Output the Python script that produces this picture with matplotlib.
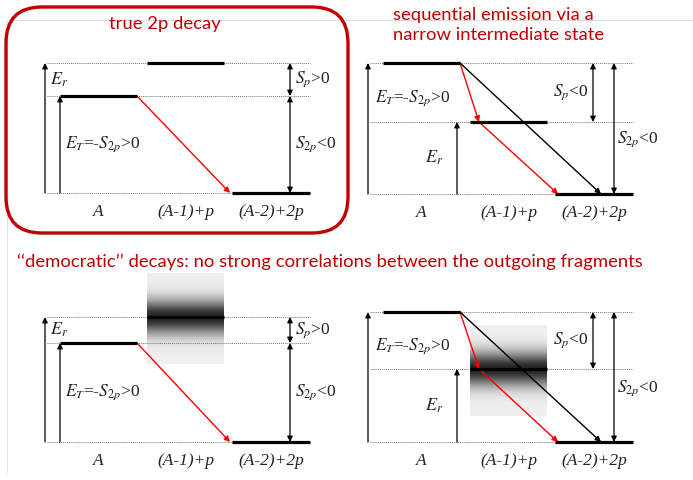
"""Level schemes for true 2p decay, sequential emission and democratic decays."""
import numpy as np
import matplotlib
matplotlib.use("Agg")
import matplotlib.pyplot as plt
from matplotlib.patches import FancyBboxPatch

plt.rcParams["mathtext.fontset"] = "stix"

# energy-level positions (pixel rows) for each of the four schemes
panel_dx = [0, 323, 0, 323]
level_A = [96, 63, 343, 312]
level_A1p = [63, 122, 317, 369]
level_A2p = [193, 194, 442, 442]
sequential = [False, True, False, True]
broad = [False, False, True, True]

col_labels = ["A", "(A-1)+p", "(A-2)+2p"]
col_centers = [98, 186, 271]
bar_spans = [(60, 137), (147, 224), (232, 310)]

titles = ["true 2p decay", "sequential emission via a\nnarrow intermediate state",
          "\u2018\u2018democratic\u2019\u2019 decays: no strong correlations between the outgoing fragments"]

RED = "#c00000"
SERIF = "Liberation Serif"

fig = plt.figure(figsize=(6.93, 4.8), dpi=100)
ax = fig.add_axes([0, 0, 1, 1])
ax.set_xlim(0, 693)
ax.set_ylim(480, 0)
ax.axis("off")

# faint slide frame lines
ax.plot([7, 693], [20, 20], color="#dddddd", lw=0.8, zorder=0)
ax.plot([7, 7], [20, 472], color="#e4e4e4", lw=0.8, zorder=0)


def arrow(x0, y0, x1, y1, color="black", both=False, lw=0.9):
    style = "<|-|>" if both else "-|>"
    ax.annotate("", xy=(x1, y1), xytext=(x0, y0),
                arrowprops=dict(arrowstyle=style, color=color, lw=lw,
                                mutation_scale=8, shrinkA=0, shrinkB=0))


def label(x, y, s, ha="left", size=12.5, italic=False):
    ax.text(x, y, s, ha=ha, va="center", fontsize=size, family=SERIF,
            style="italic" if italic else "normal", color="#222222")


for i in range(4):
    dx = panel_dx[i]
    yA, yM, yG = level_A[i], level_A1p[i], level_A2p[i]
    top = min(yA, yM)
    mid = max(yA, yM)
    x_left, x_right = 47 + dx, 310 + dx

    if broad[i]:
        b0, b1 = bar_spans[1]
        y_lo, y_hi = yM - 44, yM + 47
        yy = np.linspace(y_lo, y_hi, 200)
        shade = 0.94 - 0.8 * np.exp(-((yy - yM) / 17.0) ** 2)
        ax.imshow(shade[:, None], extent=[b0 + dx, b1 + dx, y_hi, y_lo],
                  cmap="gray", vmin=0, vmax=1, aspect="auto", zorder=1,
                  interpolation="bilinear")

    for y in (top, mid, yG):
        ax.plot([x_left, x_right], [y, y], color="#777777", lw=0.7,
                ls=(0, (1, 1)), zorder=2)

    for (b0, b1), y in zip(bar_spans, (yA, yM, yG)):
        ax.plot([b0 + dx, b1 + dx], [y, y], color="black", lw=2.3,
                solid_capstyle="butt", zorder=4)

    arrow(45 + dx, yG, 45 + dx, top)

    if not sequential[i]:
        arrow(60 + dx, yG, 60 + dx, yA)
        arrow(137 + dx, yA, 230 + dx, yG, color="red", lw=1.0)
        arrow(290 + dx, yM, 290 + dx, yA, both=True)
        arrow(290 + dx, yA, 290 + dx, yG, both=True)
        label(50 + dx, (yM + yA) / 2, r"$E_r$", size=13)
        label(65 + dx, (yA + yG) / 2, r"$E_T$=-$S_{2p}$>0")
        label(295 + dx, (yM + yA) / 2, r"$S_p$>0")
        label(295 + dx, (yA + yG) / 2, r"$S_{2p}$<0")
    else:
        arrow(134 + dx, yG, 134 + dx, yM)
        arrow(137 + dx, yA, 156 + dx, yM, color="red", lw=1.0)
        arrow(156 + dx, yM, 235 + dx, yG, color="red", lw=1.0)
        arrow(137 + dx, yA, 278 + dx, yG, lw=1.0)
        arrow(270 + dx, yA, 270 + dx, yM, both=True)
        arrow(291 + dx, yA, 291 + dx, yG, both=True)
        label(52 + dx, (yA + yM) / 2 + 6, r"$E_T$=-$S_{2p}$>0")
        label(120 + dx, (yM + yG) / 2, r"$E_r$", ha="right", size=13)
        label(265 + dx, (yA + yM) / 2, r"$S_p$<0", ha="right")
        label(294 + dx, (yA + yG) / 2 + 11, r"$S_{2p}$<0")

    for cx, txt in zip(col_centers, col_labels):
        label(cx + dx, yG + 19, txt, ha="center", italic=True)

# rounded frame around the true 2p panel
pad = 36
ax.add_patch(FancyBboxPatch((6 + pad, 7 + pad), 342 - 2 * pad, 226 - 2 * pad,
                            boxstyle=f"round,pad={pad}", fill=False,
                            ec=RED, lw=2.4, zorder=5))

tfont = dict(family="Lato", color=RED, fontsize=13.3, va="center")
ax.text(165, 24, titles[0], ha="center", **tfont)
ax.text(393, 25, titles[1], ha="left", linespacing=1.3, **tfont)
ax.text(17, 262, titles[2], ha="left", **tfont)

fig.savefig("out.png", dpi=100)
